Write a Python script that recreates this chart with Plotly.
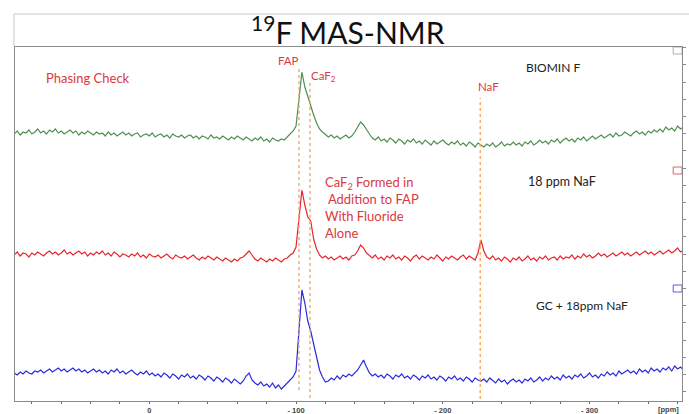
import plotly.graph_objects as go

# chemical shift grid (ppm), 2 ppm steps
PPM = [92, 90, 88, 86, 84, 82, 80, 78, 76, 74,
       72, 70, 68, 66, 64, 62, 60, 58, 56, 54,
       52, 50, 48, 46, 44, 42, 40, 38, 36, 34,
       32, 30, 28, 26, 24, 22, 20, 18, 16, 14,
       12, 10, 8, 6, 4, 2, 0, -2, -4, -6,
       -8, -10, -12, -14, -16, -18, -20, -22, -24, -26,
       -28, -30, -32, -34, -36, -38, -40, -42, -44, -46,
       -48, -50, -52, -54, -56, -58, -60, -62, -64, -66,
       -68, -70, -72, -74, -76, -78, -80, -82, -84, -86,
       -88, -90, -92, -94, -96, -98, -100, -102, -104, -106,
       -108, -110, -112, -114, -116, -118, -120, -122, -124, -126,
       -128, -130, -132, -134, -136, -138, -140, -142, -144, -146,
       -148, -150, -152, -154, -156, -158, -160, -162, -164, -166,
       -168, -170, -172, -174, -176, -178, -180, -182, -184, -186,
       -188, -190, -192, -194, -196, -198, -200, -202, -204, -206,
       -208, -210, -212, -214, -216, -218, -220, -222, -224, -226,
       -228, -230, -232, -234, -236, -238, -240, -242, -244, -246,
       -248, -250, -252, -254, -256, -258, -260, -262, -264, -266,
       -268, -270, -272, -274, -276, -278, -280, -282, -284, -286,
       -288, -290, -292, -294, -296, -298, -300, -302, -304, -306,
       -308, -310, -312, -314, -316, -318, -320, -322, -324, -326,
       -328, -330, -332, -334, -336, -338, -340, -342, -344, -346,
       -348, -350, -352, -354, -356, -358, -360, -362, -364]

# spectrum intensities (arbitrary units, baseline ~0)
BIOMIN_F = [1, 4, 0, 3, 2, 5, 1, 3, 6, 2,
            4, 1, 5, 3, 6, 2, 4, 1, 3, 5,
            2, 4, 0, 3, 1, 4, 2, 0, 3, 1,
            2, -1, 3, 0, 2, -1, 1, 3, 0, 2,
            -1, 1, 2, -2, 0, 1, -1, 2, -2, 0,
            1, -2, 0, -3, 1, -1, -2, 0, -3, -1,
            0, -3, -1, -4, -1, -2, -4, 0, -3, -2,
            -4, -1, -3, -5, -2, -4, -1, -3, -5, -2,
            -4, -6, -3, -5, -2, -6, -4, -7, -3, -5,
            -6, -4, -5, -2, 0, 4, 9, 35, 63, 48,
            38, 28, 20, 12, 6, 3, 0, -2, 0, -3,
            -1, -4, -2, 0, -3, -1, 3, 8, 13, 10,
            5, 1, -3, -5, -2, -6, -4, -7, -3, -5,
            -8, -4, -6, -9, -5, -7, -4, -8, -6, -9,
            -5, -8, -10, -6, -9, -7, -5, -8, -10, -7,
            -9, -6, -10, -8, -11, -7, -9, -12, -8, -10,
            -12, -9, -11, -8, -12, -10, -7, -11, -9, -10,
            -7, -10, -8, -11, -7, -9, -6, -10, -8, -5,
            -8, -6, -9, -5, -7, -4, -8, -5, -3, -6,
            -4, -7, -3, -5, -2, -6, -3, -1, -4, -2,
            0, -3, -1, 1, -2, 2, -1, 0, 3, 1,
            -1, 2, 4, 1, 3, 0, 4, 2, 5, 3,
            6, 3, 8, 5, 7, 4, 9, 6, 8]

NAF_18PPM = [0, 3, -1, 2, 1, -2, 2, 0, 3, 1,
             -1, 2, 4, 1, 3, 0, 2, 5, 1, 3,
             0, 2, 4, 1, 3, -1, 2, 0, 3, 1,
             4, 0, 2, -1, 3, 1, -2, 1, 0, -2,
             1, -1, 2, -2, 0, -3, 1, -1, -2, 0,
             -3, -1, 1, -2, -4, 0, -2, -3, -1, -4,
             -2, 0, -3, -5, -2, -4, -1, -3, -5, -2,
             -4, -6, -3, -5, -7, -4, -6, -3, -2, 1,
             4, 0, -4, -6, -3, -5, -7, -4, -6, -3,
             -5, -7, -4, -3, 0, 2, 8, 40, 65, 50,
             38, 34, 16, 6, 0, -3, -1, -4, -2, -5,
             -3, -1, -4, -2, -5, -1, 0, 4, 10, 7,
             2, -1, -3, 0, -4, -2, -5, -1, -3, 0,
             -4, -2, -5, -1, -3, -6, -2, 0, -4, -1,
             -3, -5, -2, -4, 0, -3, -6, -2, -4, -1,
             -3, -5, -2, 0, -4, -1, -3, -5, 2, 15,
             4, -2, -4, -1, -5, -3, -6, -2, -4, -7,
             -3, -5, -2, -6, -4, -1, -5, -3, -6, -2,
             -4, -1, -5, -3, -2, -5, -1, -4, -2, -3,
             0, -4, -1, -3, 1, -2, 0, -3, -1, 2,
             -1, 1, -2, 0, 2, -1, 1, 3, 0, 2,
             -1, 1, 3, 0, 2, 4, 1, 3, 0, 2,
             4, 1, 3, 5, 2, 4, 7, 3, 5]

GC_NAF = [0, -2, 1, -1, 2, 0, -1, 2, 1, 3,
          0, 2, 4, 1, 3, 5, 2, 4, 1, 3,
          5, 2, 4, 1, 3, 0, 2, 4, 1, 3,
          0, 2, -1, 3, 1, 4, 0, 2, -1, 1,
          3, 0, -2, 1, -1, 2, -2, 0, -3, -1,
          -4, 0, -2, -5, -1, -3, -6, -2, -4, -1,
          -5, -3, -6, -2, -4, -7, -3, -5, -8, -4,
          -6, -9, -5, -7, -10, -6, -9, -11, -8, -3,
          0, -7, -10, -12, -9, -13, -11, -14, -10, -15,
          -12, -16, -13, -10, -8, -4, 2, 40, 83, 70,
          52, 42, 28, 15, 3, -4, -9, -8, -5, -7,
          -3, -6, -2, -4, -1, -3, 0, 3, 8, 13,
          6, 0, -3, -1, -4, -2, -5, -1, -3, -6,
          -2, -4, -1, -5, -3, -6, -2, -4, -7, -3,
          -5, -2, -6, -4, -7, -3, -5, -8, -4, -6,
          -3, -7, -5, -8, -4, -6, -9, -5, -7, -8,
          -6, -9, -5, -8, -10, -6, -9, -7, -11, -8,
          -6, -9, -7, -10, -6, -8, -5, -9, -7, -4,
          -8, -5, -7, -3, -6, -4, -7, -2, -5, -3,
          -6, -2, -4, -1, -5, -3, 0, -4, -2, -5,
          -1, -3, 1, -2, 0, -3, 2, -1, 1, 3,
          0, 2, -1, 4, 1, 3, 0, 5, 2, 4,
          1, 5, 3, 6, 2, 7, 4, 6, 3]

SERIES = ["BIOMIN F", "18 ppm NaF", "GC + 18ppm NaF"]
REF_NAMES = ["FAP", "CaF2", "NaF"]
REF_PPM = [-102, -109.5, -225.5]
X_TICKS = [0, -100, -200, -300]
X_TICKTEXT = ["0", "- 100", "- 200", "- 300"]

# display layout (stack offsets, colours)
OFFSETS = [266, 146, 28]
COLORS = ["#4f8f4f", "#e8262b", "#2a2ae0"]
MARK_COLORS = ["#a9b0a9", "#e0606a", "#5a5ae0"]
RED_TXT = "#d83a40"
FONT = "Lato"

fig = go.Figure()
for name, vals, off, col in zip(SERIES, [BIOMIN_F, NAF_18PPM, GC_NAF], OFFSETS, COLORS):
    fig.add_trace(go.Scatter(x=PPM, y=[v + off for v in vals], mode="lines",
                             line=dict(color=col, width=1.2), name=name,
                             showlegend=False, hoverinfo="skip"))

shapes = []
line_tops = [334, 318, 303]
line_bottoms = [11, -15, -40]
for xv, top, bot in zip(REF_PPM, line_tops, line_bottoms):
    shapes.append(dict(type="line", xref="x", yref="y", x0=xv, x1=xv, y0=bot, y1=top,
                       line=dict(color="#f4a45a", width=1.3, dash="dot"), layer="above"))
for off, mc in zip(OFFSETS, MARK_COLORS):
    shapes.append(dict(type="rect", xref="x", yref="y", x0=-357, x1=-363,
                       y0=off + 81, y1=off + 88, line=dict(color=mc, width=1),
                       fillcolor="rgba(0,0,0,0)"))
# slide frame
shapes.append(dict(type="line", xref="paper", yref="paper", x0=-0.0015, x1=1.02,
                   y0=1.0931, y1=1.0931, line=dict(color="#c8c8c8", width=1)))
shapes.append(dict(type="line", xref="paper", yref="paper", x0=-0.0015, x1=-0.0015,
                   y0=1.0931, y1=1.0, line=dict(color="#c8c8c8", width=1)))

ann = []
ann.append(dict(text="<sup>19</sup>F MAS-NMR", xref="paper", yref="paper", x=0.499, y=1.049,
                showarrow=False, font=dict(family=FONT, size=30, color="#111"),
                xanchor="center", yanchor="middle"))


def add(text, x, y, color, size=12, xanchor="center", align="center"):
    ann.append(dict(text=text, x=x, y=y, xref="x", yref="y", showarrow=False,
                    font=dict(family=FONT, size=size, color=color),
                    xanchor=xanchor, yanchor="middle", align=align))


add("Phasing Check", 41.5, 323, RED_TXT, 13)
add("FAP", -95, 341, RED_TXT, 11.5)
add("CaF<sub>2</sub>", -119, 325, RED_TXT, 11.5)
add("NaF", -231, 315, RED_TXT, 11.5)
add(SERIES[0], -275, 334, "#222", 12)
add(SERIES[1], -281, 220, "#222", 12.5)
add(SERIES[2], -295, 96, "#222", 12)
add("CaF<sub>2</sub> Formed in<br>&nbsp;Addition to FAP<br>With Fluoride<br>Alone",
    -118.5, 194, RED_TXT, 13, xanchor="left", align="left")
ann.append(dict(text="[ppm]", x=-354, y=-0.023, xref="x", yref="paper", showarrow=False,
                font=dict(family="Liberation Sans", size=7.5, color="#444", weight="bold"),
                xanchor="center", yanchor="middle"))

fig.update_layout(
    width=689, height=414,
    margin=dict(l=15, r=7, t=47, b=13, autoexpand=False),
    paper_bgcolor="white", plot_bgcolor="white",
    shapes=shapes, annotations=ann,
    xaxis=dict(range=[91.5, -363], tickvals=X_TICKS, ticktext=X_TICKTEXT, automargin=False,
               ticks="outside", ticklen=2, tickcolor="#666", showgrid=False, zeroline=False,
               showline=True, linecolor="#8a8a8a", linewidth=1, mirror=True,
               tickfont=dict(family="Liberation Sans", size=7.5, color="#444", weight="bold"),
               minor=dict(dtick=20, ticks="outside", ticklen=2, tickcolor="#666")),
    yaxis=dict(range=[0, 354], side="right", showticklabels=False, ticks="outside",
               automargin=False,
               ticklen=3, tickcolor="#888", tick0=9.3, dtick=17.2, showgrid=False,
               zeroline=False, showline=True, linecolor="#8a8a8a", linewidth=1, mirror=True),
)

fig.write_html("out.html", config={"displayModeBar": False},
               post_script="document.body.style.margin='0';")
